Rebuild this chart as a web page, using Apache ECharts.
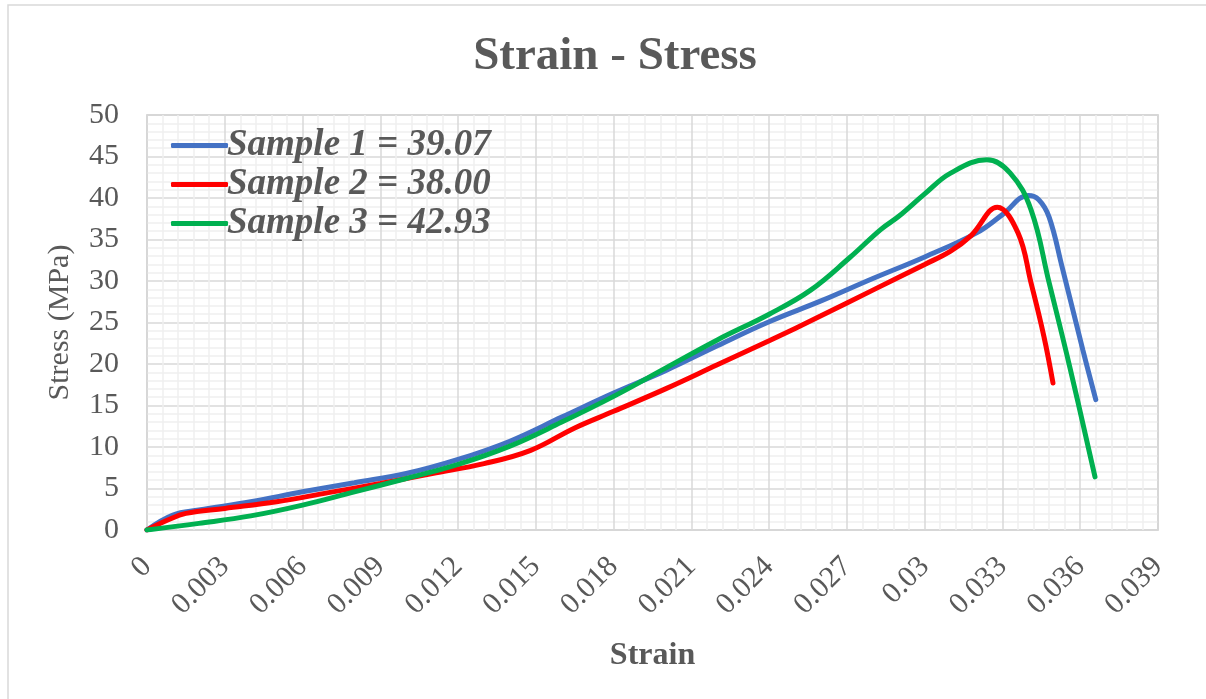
<!DOCTYPE html>
<html>
<head>
<meta charset="utf-8">
<script src="https://cdn.jsdelivr.net/npm/echarts@6/dist/echarts.min.js"></script>
<style>
html,body{margin:0;padding:0;background:#fff;}
#chart{width:1206px;height:699px;}
</style>
</head>
<body>
<div id="chart"></div>
<script>
const seriesNames = ['Sample 1 = 39.07', 'Sample 2 = 38.00', 'Sample 3 = 42.93'];
const xTickLabels = ['0','0.003','0.006','0.009','0.012','0.015','0.018','0.021','0.024','0.027','0.03','0.033','0.036','0.039'];
const yTickLabels = ['0','5','10','15','20','25','30','35','40','45','50'];

const strain1 = [0, 0.001, 0.002, 0.004, 0.006, 0.008, 0.010, 0.012, 0.014, 0.016, 0.018, 0.020, 0.022, 0.024, 0.026, 0.028, 0.030, 0.032, 0.033, 0.034, 0.0344, 0.0348, 0.0353, 0.0361, 0.0366];
const stress1 = [0, 1.8, 2.4, 3.4, 4.6, 5.7, 6.8, 8.5, 10.7, 13.6, 16.5, 19.2, 22.2, 25.1, 27.6, 30.3, 32.9, 35.8, 38.0, 40.3, 39.8, 37.7, 31.7, 21.7, 15.7];

const strain2 = [0, 0.0008, 0.0015, 0.003, 0.005, 0.007, 0.009, 0.011, 0.013, 0.0148, 0.0165, 0.018, 0.020, 0.022, 0.024, 0.026, 0.028, 0.030, 0.031, 0.0318, 0.0328, 0.0336, 0.0341, 0.0346, 0.03495];
const stress2 = [0, 1.2, 2.0, 2.6, 3.4, 4.5, 5.6, 6.8, 8.0, 9.6, 12.3, 14.3, 17.0, 19.9, 22.8, 25.8, 28.9, 32.0, 33.6, 35.5, 38.9, 35.8, 29.8, 23.3, 17.7];

const strain3 = [0, 0.002, 0.004, 0.006, 0.008, 0.010, 0.012, 0.014, 0.016, 0.018, 0.020, 0.022, 0.024, 0.0256, 0.0271, 0.0283, 0.029, 0.030, 0.031, 0.0324, 0.0333, 0.0341, 0.0348, 0.0356, 0.03657];
const stress3 = [0, 0.8, 1.7, 3.0, 4.6, 6.2, 7.9, 10.1, 13.0, 16.1, 19.5, 22.9, 26.0, 28.9, 32.8, 36.2, 37.8, 40.5, 43.0, 44.6, 43.0, 38.6, 29.8, 19.6, 6.4];

const colors = ['#4472C4', '#FF0000', '#00B050'];
const txt = '#595959';
const serif = '"Liberation Serif","Times New Roman",serif';

function pairs(xs, ys){ return xs.map((x,i)=>[x, ys[i]]); }
const allData = [pairs(strain1, stress1), pairs(strain2, stress2), pairs(strain3, stress3)];

const chart = echarts.init(document.getElementById('chart'), null, {renderer:'canvas'});
chart.setOption({
  animation: false,
  backgroundColor: '#fff',
  graphic: [{
    type: 'rect', silent: true, z: -10,
    shape: {x: 8, y: 5, width: 1215, height: 715},
    style: {fill: 'none', stroke: '#d9d9d9', lineWidth: 1.5}
  }],
  title: {
    text: 'Strain - Stress',
    left: 610, top: 28, textAlign: 'center',
    textStyle: {fontFamily: serif, fontWeight: 'bold', fontSize: 47, color: txt}
  },
  legend: {
    show: true,
    orient: 'vertical', left: 166, top: 122, itemGap: 2,
    itemWidth: 57, itemHeight: 5,
    icon: 'roundRect',
    data: seriesNames,
    textStyle: {fontFamily: serif, fontWeight: 'bold', fontStyle: 'italic', fontSize: 37, color: txt, padding: [0, 0, 0, -6]}
  },
  grid: {left: 147, right: 48, top: 115, bottom: 169, show: true, borderColor: '#c4c4c4', borderWidth: 1.5, containLabel: false},
  xAxis: {
    type: 'value', min: 0, max: 0.039, interval: 0.003,
    name: 'Strain', nameLocation: 'middle', nameGap: 110,
    nameTextStyle: {fontFamily: serif, fontWeight: 'bold', fontSize: 32, color: txt},
    axisLine: {show: false}, axisTick: {show: false},
    axisLabel: {rotate: 45, margin: 32, fontFamily: serif, fontSize: 30, color: txt,
      formatter: v => xTickLabels[Math.round(v / 0.003)] },
    splitLine: {show: true, lineStyle: {color: '#d9d9d9', width: 1.5}},
    minorTick: {show: false, splitNumber: 5},
    minorSplitLine: {show: true, lineStyle: {color: '#efefef', width: 1.5}}
  },
  yAxis: {
    type: 'value', min: 0, max: 50, interval: 5,
    name: 'Stress (MPa)', nameLocation: 'middle', nameGap: 72,
    nameTextStyle: {fontFamily: serif, fontSize: 30, color: txt},
    axisLine: {show: false}, axisTick: {show: false},
    axisLabel: {margin: 28, fontFamily: serif, fontSize: 30, color: txt,
      formatter: v => yTickLabels[Math.round(v / 5)] },
    splitLine: {show: true, lineStyle: {color: '#d9d9d9', width: 1.5}},
    minorTick: {show: false, splitNumber: 5},
    minorSplitLine: {show: true, lineStyle: {color: '#efefef', width: 1.5}}
  },
  series: seriesNames.map((n, i) => ({
    name: n, type: 'line', data: allData[i], smooth: 0.4, symbol: 'none',
    lineStyle: {color: colors[i], width: 5, cap: 'round'},
    itemStyle: {color: colors[i]}
  }))
});
</script>
</body>
</html>
